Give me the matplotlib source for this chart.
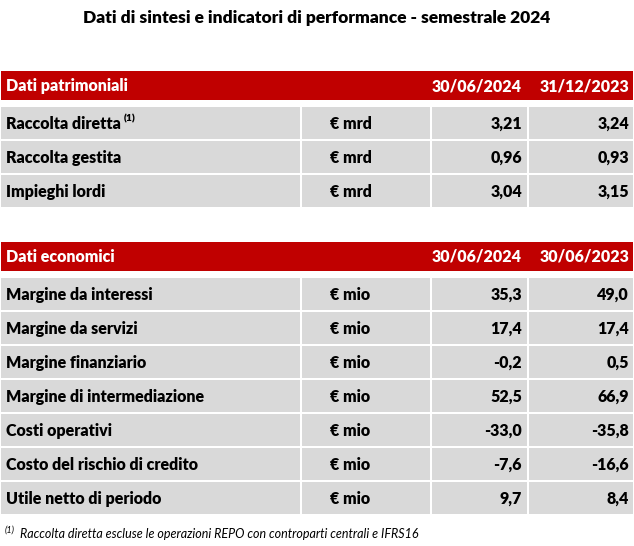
import matplotlib
matplotlib.use("Agg")
import matplotlib.pyplot as plt
from matplotlib.patches import Rectangle

title = "Dati di sintesi e indicatori di performance - semestrale 2024"
pat_header = ["Dati patrimoniali", "30/06/2024", "31/12/2023"]
pat_labels = ["Raccolta diretta", "Raccolta gestita", "Impieghi lordi"]
pat_units = ["€ mrd", "€ mrd", "€ mrd"]
pat_v1 = ["3,21", "0,96", "3,04"]
pat_v2 = ["3,24", "0,93", "3,15"]
eco_header = ["Dati economici", "30/06/2024", "30/06/2023"]
eco_labels = ["Margine da interessi", "Margine da servizi", "Margine finanziario",
              "Margine di intermediazione", "Costi operativi",
              "Costo del rischio di credito", "Utile netto di periodo"]
eco_units = ["€ mio"] * 7
eco_v1 = ["35,3", "17,4", "-0,2", "52,5", "-33,0", "-7,6", "9,7"]
eco_v2 = ["49,0", "17,4", "0,5", "66,9", "-35,8", "-16,6", "8,4"]
footnote = "Raccolta diretta escluse le operazioni REPO con controparti centrali e IFRS16"

W, H = 634, 546
fig = plt.figure(figsize=(W/100, H/100), dpi=100)
ax = fig.add_axes([0, 0, 1, 1])
ax.set_xlim(0, W); ax.set_ylim(H, 0); ax.axis("off")
FONT = "Lato"
FW = "heavy"
RED = "#C00000"; GRAY = "#D9D9D9"
cols = [(1, 300), (302, 430), (432, 527), (529, 633)]
FS = 11.5

ax.text(317, 18, title, ha="center", va="center", fontsize=12.5, fontweight=FW, family=FONT)

def table(y0, header, labels, units, v1, v2, foot_first=False):
    ax.add_patch(Rectangle((1, y0), 632, 29, color=RED, lw=0))
    ax.text(6, y0 + 15, header[0], ha="left", va="center", color="white", fontsize=FS, fontweight=FW, family=FONT)
    ax.text(522, y0 + 15, header[1], ha="right", va="center", color="white", fontsize=FS, fontweight=FW, family=FONT)
    ax.text(629, y0 + 15, header[2], ha="right", va="center", color="white", fontsize=FS, fontweight=FW, family=FONT)
    for i, lab in enumerate(labels):
        y = y0 + 36 + i * 34
        for (a, b) in cols:
            ax.add_patch(Rectangle((a, y), b - a, 32, color=GRAY, lw=0))
        yc = y + 17
        ax.text(6, yc, lab, ha="left", va="center", fontsize=FS, fontweight=FW, family=FONT)
        if foot_first and i == 0:
            ax.text(124, yc - 5, "(1)", ha="left", va="center", fontsize=7.5, fontweight=FW, family=FONT)
        ax.text(330, yc, units[i], ha="left", va="center", fontsize=FS, fontweight=FW, family=FONT)
        ax.text(522, yc, v1[i], ha="right", va="center", fontsize=FS, fontweight=FW, family=FONT)
        ax.text(629, yc, v2[i], ha="right", va="center", fontsize=FS, fontweight=FW, family=FONT)

table(71, pat_header, pat_labels, pat_units, pat_v1, pat_v2, foot_first=True)
table(242, eco_header, eco_labels, eco_units, eco_v1, eco_v2)
ax.text(5, 530, "(1)", ha="left", va="center", fontsize=6.5, style="italic", family=FONT)
ax.text(20, 534, footnote, ha="left", va="center", fontsize=9, style="italic", family=FONT)
fig.savefig("out.png", dpi=100)
